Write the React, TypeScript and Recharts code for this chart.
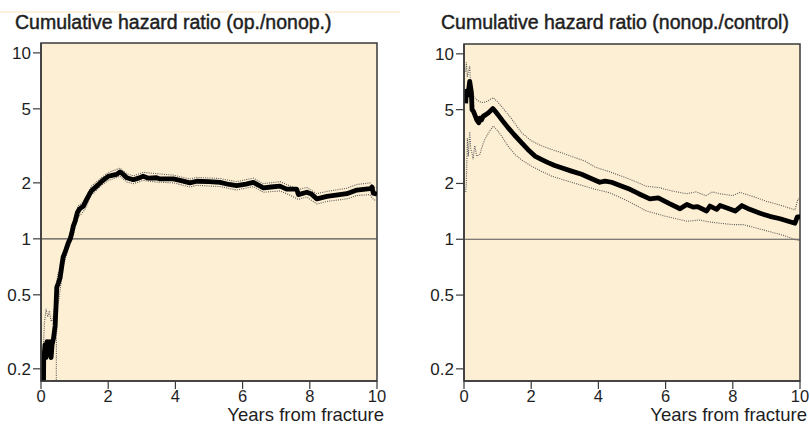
import React from 'react';
import { LineChart, Line, XAxis, YAxis, ReferenceLine, CartesianGrid, ReferenceArea } from 'recharts';

const xTicks = [0, 2, 4, 6, 8, 10];
const yTicks = [0.2, 0.5, 1, 2, 5, 10];
const yDomain: [number, number] = [0.172, 11.3];
const titles = ['Cumulative hazard ratio (op./nonop.)', 'Cumulative hazard ratio (nonop./control)'];
const xLabel = 'Years from fracture';

// [years, hazard ratio]
const leftMain: [number, number][] = [
  [0.07, 0.12], [0.08, 0.22], [0.12, 0.27], [0.15, 0.23], [0.18, 0.28], [0.22, 0.24], [0.26, 0.28],
  [0.3, 0.23], [0.33, 0.27], [0.37, 0.29], [0.42, 0.34], [0.45, 0.45], [0.47, 0.55], [0.52, 0.58],
  [0.57, 0.62], [0.62, 0.72], [0.66, 0.8], [0.72, 0.85], [0.81, 0.95], [0.87, 1.0], [0.91, 1.06],
  [0.96, 1.17], [1.02, 1.25], [1.08, 1.38], [1.15, 1.45], [1.26, 1.5], [1.35, 1.62], [1.45, 1.75],
  [1.51, 1.82], [1.6, 1.88], [1.7, 1.95], [1.81, 2.04], [1.9, 2.1], [2.0, 2.17], [2.15, 2.2],
  [2.25, 2.22], [2.35, 2.29], [2.45, 2.22], [2.55, 2.13], [2.75, 2.08], [2.9, 2.12], [3.04, 2.17],
  [3.2, 2.12], [3.44, 2.13], [3.54, 2.1], [3.94, 2.1], [4.2, 2.05], [4.43, 2.0], [4.63, 2.04],
  [5.0, 2.03], [5.33, 2.01], [5.6, 1.96], [5.82, 1.93], [6.1, 1.97], [6.32, 2.01], [6.5, 1.93],
  [6.62, 1.88], [6.85, 1.9], [7.11, 1.92], [7.31, 1.85], [7.61, 1.85], [7.66, 1.73], [7.91, 1.78],
  [8.05, 1.74], [8.21, 1.64], [8.51, 1.69], [9.1, 1.75], [9.4, 1.83], [9.79, 1.86], [9.85, 1.9],
  [9.89, 1.76], [10, 1.74],
];
const leftUpper: [number, number][] = [
  [0.07, 0.25], [0.1, 0.35], [0.15, 0.42], [0.2, 0.38], [0.25, 0.41], [0.3, 0.36], [0.35, 0.37],
  [0.4, 0.42], [0.45, 0.55], [0.5, 0.65], [0.6, 0.7], [0.7, 0.88], [0.8, 1.0], [0.9, 1.12],
  [1.0, 1.32], [1.1, 1.5], [1.3, 1.6], [1.5, 1.92], [1.8, 2.13], [2.0, 2.27], [2.35, 2.4],
  [2.55, 2.24], [2.75, 2.18], [3.04, 2.28], [3.44, 2.24], [3.94, 2.2], [4.43, 2.1], [4.63, 2.14],
  [5.33, 2.11], [5.82, 2.03], [6.32, 2.12], [6.62, 1.98], [7.11, 2.03], [7.31, 1.96], [7.66, 1.84],
  [7.91, 1.89], [8.21, 1.75], [8.51, 1.8], [9.1, 1.87], [9.4, 1.96], [9.79, 2.0], [9.89, 1.9],
  [10, 1.88],
];
const leftLower: [number, number][] = [
  [0.07, 0.1], [0.45, 0.1], [0.46, 0.3], [0.5, 0.43], [0.55, 0.5], [0.62, 0.62], [0.7, 0.75],
  [0.8, 0.87], [0.9, 0.97], [1.0, 1.12], [1.1, 1.3], [1.3, 1.43], [1.5, 1.72], [1.8, 1.94],
  [2.0, 2.06], [2.35, 2.17], [2.55, 2.02], [2.75, 1.98], [3.04, 2.06], [3.44, 2.02], [3.94, 2.0],
  [4.43, 1.9], [4.63, 1.94], [5.33, 1.91], [5.82, 1.83], [6.32, 1.91], [6.62, 1.78], [7.11, 1.81],
  [7.31, 1.75], [7.66, 1.63], [7.91, 1.68], [8.21, 1.54], [8.51, 1.59], [9.1, 1.64], [9.4, 1.71],
  [9.79, 1.73], [9.89, 1.63], [10, 1.6],
];

const rightMain: [number, number][] = [
  [0.05, 5.4], [0.07, 6.3], [0.12, 6.0], [0.17, 7.1], [0.22, 6.2], [0.24, 5.0], [0.28, 4.9],
  [0.32, 4.7], [0.38, 4.4], [0.44, 4.25], [0.47, 4.5], [0.52, 4.4], [0.57, 4.6], [0.65, 4.7],
  [0.72, 4.8], [0.8, 4.95], [0.86, 5.07], [0.93, 4.9], [1.01, 4.7], [1.15, 4.35], [1.31, 4.0],
  [1.5, 3.65], [1.71, 3.32], [1.9, 3.05], [2.11, 2.81], [2.3, 2.7], [2.5, 2.59], [2.7, 2.5],
  [2.9, 2.43], [3.2, 2.33], [3.5, 2.24], [3.75, 2.14], [4.04, 2.03], [4.2, 2.06], [4.39, 2.03],
  [4.7, 1.93], [4.94, 1.86], [5.2, 1.76], [5.53, 1.65], [5.78, 1.67], [6.1, 1.56], [6.43, 1.46],
  [6.63, 1.54], [6.82, 1.49], [6.95, 1.5], [7.22, 1.42], [7.32, 1.51], [7.52, 1.45], [7.62, 1.52],
  [7.85, 1.47], [8.07, 1.42], [8.27, 1.52], [8.5, 1.45], [8.81, 1.38], [9.1, 1.33], [9.41, 1.29],
  [9.65, 1.25], [9.85, 1.22], [9.92, 1.32], [10, 1.32],
];
const rightUpper: [number, number][] = [
  [0.05, 8.0], [0.07, 9.0], [0.1, 7.5], [0.17, 8.6], [0.2, 6.5], [0.27, 6.0], [0.32, 5.8],
  [0.4, 5.6], [0.52, 5.46], [0.65, 5.5], [0.87, 5.8], [1.0, 5.5], [1.12, 5.2], [1.4, 4.5],
  [1.71, 3.76], [2.0, 3.4], [2.31, 3.19], [2.6, 3.05], [2.9, 2.93], [3.2, 2.8], [3.6, 2.64],
  [3.9, 2.45], [4.34, 2.31], [4.9, 2.12], [5.43, 1.93], [5.8, 1.9], [6.2, 1.82], [6.63, 1.76],
  [6.9, 1.8], [7.2, 1.72], [7.4, 1.8], [7.62, 1.76], [8.0, 1.72], [8.21, 1.79], [8.6, 1.7],
  [9.01, 1.6], [9.4, 1.53], [9.85, 1.44], [9.94, 1.65], [10, 1.65],
];
const rightLower: [number, number][] = [
  [0.05, 1.8], [0.07, 2.0], [0.1, 3.5], [0.13, 2.8], [0.17, 3.8], [0.2, 3.1], [0.24, 2.9],
  [0.27, 2.7], [0.32, 3.2], [0.38, 2.8], [0.47, 2.87], [0.55, 3.2], [0.62, 3.46], [0.75, 3.8],
  [0.87, 4.08], [1.0, 3.85], [1.12, 3.6], [1.3, 3.2], [1.51, 2.87], [1.75, 2.65], [2.01, 2.48],
  [2.3, 2.33], [2.61, 2.19], [3.0, 2.08], [3.4, 1.98], [3.9, 1.86], [4.34, 1.78], [4.9, 1.6],
  [5.43, 1.42], [6.0, 1.33], [6.63, 1.25], [7.0, 1.27], [7.3, 1.24], [7.62, 1.22], [8.0, 1.2],
  [8.3, 1.2], [8.7, 1.15], [9.01, 1.11], [9.5, 1.05], [9.9, 0.99], [10, 0.98],
];

const BG = '#fdefd3';
const AXIS = '#3a3a3a';
const TEXT = '#1e1e1e';
const FONT = '"Liberation Sans", Arial, Helvetica, sans-serif';

const rows = (pairs: [number, number][]) => pairs.map(([x, v]) => ({ x, v }));

type PanelProps = {
  main: [number, number][];
  upper: [number, number][];
  lower: [number, number][];
  width: number;
  yAxisWidth: number;
  top: number;
  right: number;
};

function Panel({ main, upper, lower, width, yAxisWidth, top, right }: PanelProps) {
  return (
    <LineChart width={width} height={425} margin={{ top, right, bottom: 0, left: 0 }}>
      <CartesianGrid horizontal={false} vertical={false} fill={BG} />
      <XAxis
        type="number"
        dataKey="x"
        domain={[0, 10]}
        ticks={xTicks}
        allowDataOverflow
        height={44}
        tickSize={8}
        tickMargin={1}
        tick={{ fill: TEXT, fontSize: 16.5, fontFamily: FONT }}
        axisLine={{ stroke: AXIS, strokeWidth: 1.5 }}
        tickLine={{ stroke: AXIS, strokeWidth: 1.2 }}
      />
      <YAxis
        type="number"
        scale="log"
        domain={yDomain}
        ticks={yTicks}
        allowDataOverflow
        width={yAxisWidth}
        tickSize={8}
        tickMargin={2}
        tickFormatter={(v: number) => String(v)}
        tick={{ fill: TEXT, fontSize: 17, fontFamily: FONT }}
        axisLine={{ stroke: AXIS, strokeWidth: 1.5 }}
        tickLine={{ stroke: AXIS, strokeWidth: 1.2 }}
      />
      <ReferenceLine y={1} stroke="#555" strokeWidth={1.2} />
      <Line data={rows(upper)} dataKey="v" type="linear" stroke="#5a5a5a" strokeWidth={1.1} strokeDasharray="1 1.2" dot={false} isAnimationActive={false} />
      <Line data={rows(lower)} dataKey="v" type="linear" stroke="#5a5a5a" strokeWidth={1.1} strokeDasharray="1 1.2" dot={false} isAnimationActive={false} />
      <Line data={rows(main)} dataKey="v" type="linear" stroke="#000" strokeWidth={4.8} strokeLinejoin="round" dot={false} isAnimationActive={false} />
      <ReferenceArea x1={0} x2={10} y1={yDomain[0]} y2={yDomain[1]} fill="none" fillOpacity={0} stroke={AXIS} strokeWidth={1.5} />
    </LineChart>
  );
}

export default function App() {
  return (
    <div style={{ position: 'absolute', left: 0, top: 0, width: 810, height: 425, background: '#fff', overflow: 'hidden' }}>
      <div style={{ position: 'absolute', left: 0, top: 0 }}>
        <Panel main={leftMain} upper={leftUpper} lower={leftLower} width={400} yAxisWidth={41} top={43} right={23} />
      </div>
      <div style={{ position: 'absolute', left: 400, top: 0 }}>
        <Panel main={rightMain} upper={rightUpper} lower={rightLower} width={410} yAxisWidth={64} top={44} right={10} />
      </div>
      <svg width={810} height={425} style={{ position: 'absolute', left: 0, top: 0, pointerEvents: 'none' }}>
        <line x1={0} y1={12} x2={400} y2={12} stroke="#fbe3bd" strokeWidth={1} />
        <text x={15} y={29} fontFamily={FONT} fontSize={19.5} fill={TEXT} stroke={TEXT} strokeWidth={0.45}>{titles[0]}</text>
        <text x={441} y={29} fontFamily={FONT} fontSize={19.5} fill={TEXT} stroke={TEXT} strokeWidth={0.45}>{titles[1]}</text>
        <text x={384} y={421} fontFamily={FONT} fontSize={18.5} fill={TEXT} textAnchor="end">{xLabel}</text>
        <text x={807} y={421} fontFamily={FONT} fontSize={18.5} fill={TEXT} textAnchor="end">{xLabel}</text>
      </svg>
    </div>
  );
}
